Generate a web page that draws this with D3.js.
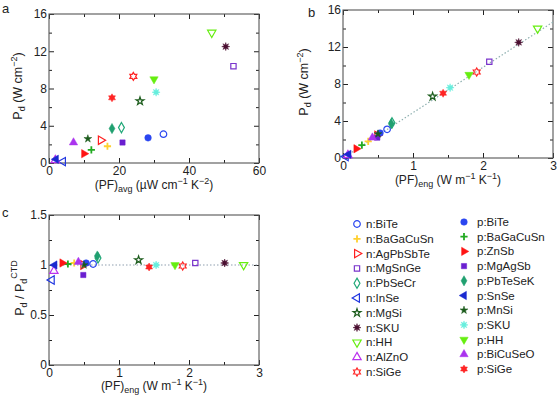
<!DOCTYPE html>
<html><head><meta charset="utf-8">
<script src="https://cdn.jsdelivr.net/npm/d3@7"></script>
<style>body{margin:0;background:#fff}svg{display:block}text{font-family:"Liberation Sans",Arial,sans-serif;fill:#222}</style>
</head><body><svg id="c" width="557" height="400"></svg>
<script>
// ---------- data ----------
const nNames = ["n:BiTe","n:BaGaCuSn","n:AgPbSbTe","n:MgSnGe","n:PbSeCr","n:InSe","n:MgSi","n:SKU","n:HH","n:AlZnO","n:SiGe"];
const nPFavg = [32.7,16.7,14.8,52.7,20.7,4.0,26.0,50.5,46.5,1.8,24.1];
const nPd    = [3.1,1.8,2.45,10.4,3.8,0.15,6.65,12.5,14.0,0.3,9.3];
const nPFeng = [0.63,0.36,0.49,2.09,0.70,0.04,1.28,2.51,2.78,0.07,1.91];
const nRatio = [1.01,1.02,1.0,1.02,1.07,0.85,1.05,1.02,1.0,0.94,0.99];

const pNames = ["p:BiTe","p:BaGaCuSn","p:ZnSb","p:MgAgSb","p:PbTeSeK","p:SnSe","p:MnSi","p:SKU","p:HH","p:BiCuSeO","p:SiGe"];
const pPFavg = [28.3,12.1,10.0,21.0,18.0,2.0,11.1,30.6,30.0,7.0,18.0];
const pPd    = [2.7,1.4,1.0,2.2,3.7,0.4,2.6,7.6,9.0,2.2,7.0];
const pPFeng = [0.53,0.27,0.19,0.49,0.69,0.08,0.50,1.53,1.80,0.42,1.43];
const pRatio = [1.02,1.01,1.02,0.90,1.09,1.0,1.0,1.0,1.0,1.03,0.98];

const fitX = [0,3], fitY = [0,14.7];
const ratioLineX = [0,3], ratioLineY = [1,1];

const ticksA_x = [0,20,40,60], ticksA_y = [0,4,8,12,16];
const ticksB_x = [0,1,2,3],    ticksB_y = [0,4,8,12,16];
const ticksC_x = [0,1,2,3],    ticksC_y = [0,0.5,1,1.5];
const minorA_x = [10,30,50], minorA_y = [2,6,10,14];
const minorB_x = [0.5,1.5,2.5], minorB_y = [2,6,10,14];
const minorC_x = [0.5,1.5,2.5], minorC_y = [0.25,0.75,1.25];

// ---------- styles ----------
const nStyle = [
 {s:"circle",c:"#2a46f0",f:false},{s:"plus",c:"#ffd030",f:false},{s:"tri-r",c:"#ff2020",f:false},
 {s:"square",c:"#7a35cc",f:false},{s:"diamond",c:"#20a878",f:false},{s:"tri-l",c:"#2036e0",f:false},
 {s:"star",c:"#1c5c1c",f:false},{s:"burst",c:"#4a0f30",f:true},{s:"tri-d",c:"#66ee10",f:false},
 {s:"tri-u",c:"#bb33ee",f:false},{s:"hex",c:"#ff2424",f:false}];
const pStyle = [
 {s:"circle",c:"#2a46f0",f:true},{s:"plus",c:"#22aa22",f:false},{s:"tri-r",c:"#ff1414",f:true},
 {s:"square",c:"#6a1fd0",f:true},{s:"diamond",c:"#20a070",f:true},{s:"tri-l",c:"#1a2ad0",f:true},
 {s:"star",c:"#1a5a1a",f:true},{s:"burst",c:"#66eedd",f:true},{s:"tri-d",c:"#66ee10",f:true},
 {s:"tri-u",c:"#aa33ee",f:true},{s:"hexf",c:"#ff2424",f:true}];

const series = [];
nNames.forEach((n,i)=>series.push({name:n,pfa:nPFavg[i],pd:nPd[i],pfe:nPFeng[i],r:nRatio[i],...nStyle[i]}));
pNames.forEach((n,i)=>series.push({name:n,pfa:pPFavg[i],pd:pPd[i],pfe:pPFeng[i],r:pRatio[i],...pStyle[i]}));

const svg = d3.select("#c");

function hexPath(R){const p=[];for(let k=0;k<12;k++){const r=k%2?R*0.58:R;const a=Math.PI/2+k*Math.PI/6;p.push([r*Math.cos(a),-r*Math.sin(a)]);}return "M"+p.map(q=>q.map(v=>v.toFixed(2)).join(",")).join("L")+"Z";}
function burstPath(R){const p=[];for(let k=0;k<16;k++){const r=k%2?R*0.45:R;const a=k*Math.PI/8;p.push([r*Math.cos(a),r*Math.sin(a)]);}return "M"+p.map(q=>q.map(v=>v.toFixed(2)).join(",")).join("L")+"Z";}
function symPath(s){
  switch(s){
    case "circle": return d3.symbol(d3.symbolCircle,34)();
    case "plus": return "M-3.6,0H3.6M0,-3.6V3.6";
    case "tri-r": case "tri-l": case "tri-d": case "tri-u": return d3.symbol(d3.symbolTriangle,30)();
    case "square": return d3.symbol(d3.symbolSquare,28)();
    case "diamond": return d3.symbol(d3.symbolDiamond,30)();
    case "star": return d3.symbol(d3.symbolStar,19)();
    case "burst": return burstPath(4);
    case "hex": case "hexf": return hexPath(4);
  }
}
function rot(s){return s==="tri-r"?90:s==="tri-l"?-90:s==="tri-d"?180:0;}
function drawMarker(g,d,x,y){
  const open = !d.f;
  g.append("path").attr("d",symPath(d.s))
   .attr("transform",`translate(${x},${y}) rotate(${rot(d.s)})`)
   .attr("fill", (open||d.s==="plus")?"none":d.c)
   .attr("stroke", d.c)
   .attr("stroke-width", d.s==="plus"?1.8:(open?1.2:0.5));
}

function richText(g, parts, attrs){
  const t = g.append("text");
  Object.entries(attrs).forEach(([k,v])=>t.attr(k,v));
  parts.forEach(p=>{
    const ts = t.append("tspan").text(p.t);
    if(p.sub){ts.attr("font-size","9px").attr("dy","3");}
    if(p.sup){ts.attr("font-size","9px").attr("dy","-5");}
    if(p.back){ts.attr("dy",p.back);}
  });
  return t;
}

function panel(cfg){
  const x = d3.scaleLinear().domain(cfg.xd).range([cfg.x0,cfg.x1]);
  const y = d3.scaleLinear().domain(cfg.yd).range([cfg.y1,cfg.y0]);
  const g = svg.append("g");
  const axStyle = sel=>{sel.select(".domain").remove();sel.selectAll("line").attr("stroke","#222");sel.selectAll("text").attr("font-size","12px").attr("font-family","Liberation Sans, Arial, sans-serif").attr("fill","#222");};
  g.append("g").attr("transform",`translate(0,${cfg.y1})`).call(d3.axisBottom(x).tickValues(cfg.tx).tickSize(-5).tickPadding(3).tickFormat(d3.format("~g"))).call(axStyle);
  g.append("g").attr("transform",`translate(${cfg.x0},0)`).call(d3.axisLeft(y).tickValues(cfg.ty).tickSize(-5).tickPadding(2).tickFormat(d3.format("~g"))).call(axStyle);
  g.append("g").attr("transform",`translate(0,${cfg.y0})`).call(d3.axisTop(x).tickValues(cfg.tx).tickSize(-5).tickFormat("")).call(axStyle);
  g.append("g").attr("transform",`translate(${cfg.x1},0)`).call(d3.axisRight(y).tickValues(cfg.ty).tickSize(-5).tickFormat("")).call(axStyle);
  g.append("g").attr("transform",`translate(0,${cfg.y1})`).call(d3.axisBottom(x).tickValues(cfg.mx).tickSize(-3).tickFormat("")).call(axStyle);
  g.append("g").attr("transform",`translate(0,${cfg.y0})`).call(d3.axisTop(x).tickValues(cfg.mx).tickSize(-3).tickFormat("")).call(axStyle);
  g.append("g").attr("transform",`translate(${cfg.x0},0)`).call(d3.axisLeft(y).tickValues(cfg.my).tickSize(-3).tickFormat("")).call(axStyle);
  g.append("g").attr("transform",`translate(${cfg.x1},0)`).call(d3.axisRight(y).tickValues(cfg.my).tickSize(-3).tickFormat("")).call(axStyle);
  g.append("rect").attr("x",cfg.x0).attr("y",cfg.y0).attr("width",cfg.x1-cfg.x0).attr("height",cfg.y1-cfg.y0)
   .attr("fill","none").attr("stroke","#555").attr("stroke-width",1.1);
  return {x,y,g};
}

// ---------- panel a ----------
const A = panel({x0:49,x1:259,y0:14,y1:163,xd:[0,60],yd:[0,16],tx:ticksA_x,ty:ticksA_y,mx:minorA_x,my:minorA_y});
series.forEach(d=>drawMarker(A.g,d,A.x(d.pfa),A.y(d.pd)));
svg.append("text").attr("x",2).attr("y",13).attr("font-size","13px").text("a");
richText(svg,[{t:"(PF)"},{t:"avg",sub:true},{t:" (µW cm",back:"-3"},{t:"−1",sup:true},{t:" K",back:"5"},{t:"−2",sup:true},{t:")",back:"5"}],
  {x:154,y:189,"text-anchor":"middle","font-size":"12px"});
richText(svg,[{t:"P"},{t:"d",sub:true},{t:" (W cm",back:"-3"},{t:"−2",sup:true},{t:")",back:"5"}],
  {transform:"translate(22,86) rotate(-90)","text-anchor":"middle","font-size":"12.5px"});

// ---------- panel b ----------
const B = panel({x0:343,x1:553,y0:10,y1:158,xd:[0,3],yd:[0,16],tx:ticksB_x,ty:ticksB_y,mx:minorB_x,my:minorB_y});
B.g.append("path").attr("d",d3.line().x((d,i)=>B.x(fitX[i])).y((d,i)=>B.y(fitY[i]))(fitX))
  .attr("stroke","#8fb0b0").attr("stroke-width",1.2).attr("stroke-dasharray","1.5,2").attr("fill","none");
series.forEach(d=>drawMarker(B.g,d,B.x(d.pfe),B.y(d.pd)));
svg.append("text").attr("x",308).attr("y",17).attr("font-size","13px").text("b");
richText(svg,[{t:"(PF)"},{t:"eng",sub:true},{t:" (W m",back:"-3"},{t:"−1",sup:true},{t:" K",back:"5"},{t:"−1",sup:true},{t:")",back:"5"}],
  {x:448,y:184,"text-anchor":"middle","font-size":"12px"});
richText(svg,[{t:"P"},{t:"d",sub:true},{t:" (W cm",back:"-3"},{t:"−2",sup:true},{t:")",back:"5"}],
  {transform:"translate(308,82) rotate(-90)","text-anchor":"middle","font-size":"12.5px"});

// ---------- panel c ----------
const C = panel({x0:49,x1:259,y0:215,y1:365,xd:[0,3],yd:[0,1.5],tx:ticksC_x,ty:ticksC_y,mx:minorC_x,my:minorC_y});
C.g.append("path").attr("d",d3.line().x((d,i)=>C.x(ratioLineX[i])).y((d,i)=>C.y(ratioLineY[i]))(ratioLineX))
  .attr("stroke","#8fa0b0").attr("stroke-width",1.2).attr("stroke-dasharray","1.5,2").attr("fill","none");
series.forEach(d=>drawMarker(C.g,d,C.x(d.pfe),C.y(d.r)));
svg.append("text").attr("x",2).attr("y",217).attr("font-size","13px").text("c");
richText(svg,[{t:"(PF)"},{t:"eng",sub:true},{t:" (W m",back:"-3"},{t:"−1",sup:true},{t:" K",back:"5"},{t:"−1",sup:true},{t:")",back:"5"}],
  {x:154,y:390,"text-anchor":"middle","font-size":"12px"});
richText(svg,[{t:"P"},{t:"d",sub:true},{t:" / P",back:"-3"},{t:"d",sub:true},{t:"CTD",sup:true,back:"-10"}],
  {transform:"translate(24,288) rotate(-90)","text-anchor":"middle","font-size":"12.5px"});

// ---------- legend ----------
const leg = svg.append("g");
series.slice(0,11).forEach((d,i)=>{
  const yy = 224 + i*14.8;
  drawMarker(leg,d,357,yy);
  leg.append("text").attr("x",366).attr("y",yy).attr("dy","0.35em").attr("font-size","11.5px").text(d.name);
});
series.slice(11).forEach((d,i)=>{
  const yy = 222 + i*14.7;
  drawMarker(leg,d,464,yy);
  leg.append("text").attr("x",477).attr("y",yy).attr("dy","0.35em").attr("font-size","11.5px").text(d.name);
});
</script></body></html>
